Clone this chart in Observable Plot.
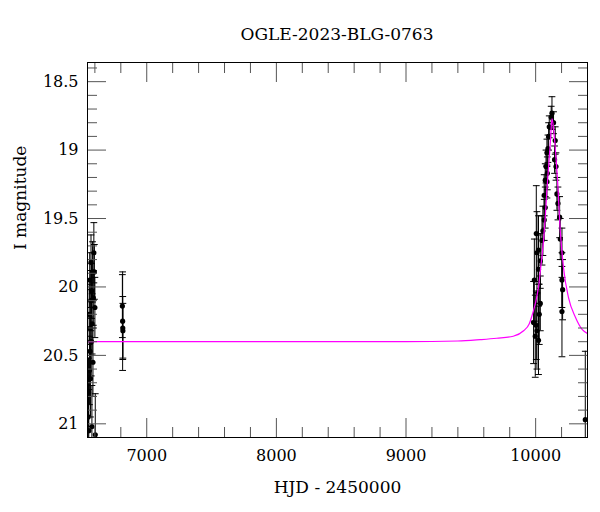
<!DOCTYPE html>
<html>
<head>
<meta charset="utf-8">
<script src="https://cdn.jsdelivr.net/npm/d3@7"></script>
<script src="https://cdn.jsdelivr.net/npm/@observablehq/plot@0.6"></script>
<style>
  html, body { margin: 0; padding: 0; background: #fff; }
  #wrap { width: 600px; height: 512px; font-family: "DejaVu Serif", serif; color: #000; }
  #title { height: 50px; box-sizing: border-box; padding-top: 24px; margin-left: 87px; width: 500px;
           text-align: center; font-size: 17px; line-height: 20px; }
</style>
</head>
<body>
<div id="wrap">
  <div id="title">OGLE-2023-BLG-0763</div>
  <div id="chart"></div>
</div>
<script>
// Observations: HJD - 2450000, I magnitude, error
const obsHjd = [
  6548, 6551, 6553, 6556, 6558, 6560, 6562, 6564, 6566, 6568, 6570, 6572, 6574, 6577, 6579, 6582, 6585, 6588, 6592, 6596, 6600, 6603,
  6812, 6814, 6815, 6816,
  9984, 9990, 9997, 10005, 10005, 10010, 10010, 10022, 10022, 10022, 10028, 10036, 10036, 10049, 10056, 10066, 10066, 10074, 10074,
  10080, 10087, 10087, 10090, 10095, 10100, 10105, 10120, 10126, 10138, 10146, 10151, 10157, 10164, 10172, 10185, 10190, 10203,
  10203, 10208, 10203, 10383
];
const obsMag = [
  20.95, 20.77, 21.05, 20.20, 20.61, 19.95, 20.47, 20.30, 20.67, 20.10, 19.82, 20.40, 20.03, 21.02, 20.27, 19.89, 20.55, 20.08, 19.75, 19.89, 20.15, 21.08,
  20.14, 20.25, 20.30, 20.32,
  20.26, 19.95, 20.36, 19.61, 20.28, 19.75, 20.32, 19.73, 19.87, 20.39, 20.20, 20.12, 19.81, 19.66, 19.59, 19.51, 19.33, 19.42, 19.22,
  19.12, 19.02, 19.23, 19.17, 18.99, 18.90, 18.83, 18.76, 18.73, 18.80, 19.07, 18.93, 19.12, 19.32, 19.39, 19.49, 19.65, 19.75,
  19.95, 20.02, 20.18, 20.97
];
const obsErr = [
  0.28, 0.25, 0.30, 0.22, 0.25, 0.20, 0.25, 0.20, 0.28, 0.22, 0.20, 0.25, 0.20, 0.30, 0.22, 0.22, 0.25, 0.20, 0.22, 0.20, 0.22, 0.30,
  0.23, 0.36, 0.23, 0.20,
  0.30, 0.30, 0.30, 0.35, 0.25, 0.30, 0.28, 0.25, 0.25, 0.25, 0.22, 0.20, 0.20, 0.18, 0.18, 0.15, 0.15, 0.15, 0.12,
  0.12, 0.10, 0.12, 0.12, 0.10, 0.10, 0.08, 0.08, 0.12, 0.08, 0.10, 0.10, 0.10, 0.12, 0.12, 0.15, 0.15, 0.18,
  0.20, 0.22, 0.33, 0.50
];

// Model light curve
const modelHjd = [6543, 8000, 9000, 9400, 9572, 9700, 9827, 9907, 9950, 9984, 10005, 10022, 10040, 10061, 10075, 10087, 10100, 10113, 10126,
  10140, 10151, 10169, 10190, 10215, 10254, 10306, 10358, 10400];
const modelMag = [20.40, 20.40, 20.40, 20.395, 20.385, 20.375, 20.36, 20.32, 20.27, 20.17, 20.09, 20.00, 19.85, 19.66, 19.48, 19.29, 19.12, 18.95, 18.77,
  18.86, 18.98, 19.22, 19.59, 19.86, 20.08, 20.22, 20.31, 20.34];

// Axis ticks
const xMajor = [7000, 8000, 9000, 10000];
const xMinor = [6600, 6800, 7200, 7400, 7600, 7800, 8200, 8400, 8600, 8800, 9200, 9400, 9600, 9800, 10200, 10400];
const yMajor = [18.5, 19, 19.5, 20, 20.5, 21];
const yMinor = [18.4, 18.6, 18.7, 18.8, 18.9, 19.1, 19.2, 19.3, 19.4, 19.6, 19.7, 19.8, 19.9, 20.1, 20.2, 20.3, 20.4, 20.6, 20.7, 20.8, 20.9, 21.1];

const obs = obsHjd.map((h, i) => ({hjd: h, mag: obsMag[i], lo: obsMag[i] - obsErr[i], hi: obsMag[i] + obsErr[i]}));
const model = modelHjd.map((h, i) => ({hjd: h, mag: modelMag[i]}));

const cap = {draw(context, l) { context.moveTo(-l / 2, 0); context.lineTo(l / 2, 0); }};
const tickCol = "#555";

const chart = Plot.plot({
  width: 600,
  height: 462,
  marginTop: 12,
  marginBottom: 75,
  marginLeft: 87,
  marginRight: 13,
  style: {fontFamily: "'DejaVu Serif', serif", fontSize: "16px", color: "#000", background: "#fff"},
  x: {domain: [6543, 10400]},
  y: {domain: [18.36, 21.1], reverse: true},
  marks: [
    Plot.ruleX(obs, {x: "hjd", y1: "lo", y2: "hi", stroke: "#000", strokeWidth: 1, clip: true}),
    Plot.vector(obs, {x: "hjd", y: "lo", length: 6, anchor: "start", shape: cap, stroke: "#000", strokeWidth: 1, clip: true}),
    Plot.vector(obs, {x: "hjd", y: "hi", length: 6, anchor: "start", shape: cap, stroke: "#000", strokeWidth: 1, clip: true}),
    Plot.dot(obs, {x: "hjd", y: "mag", r: 2.6, fill: "#000", clip: true}),
    Plot.line(model, {x: "hjd", y: "mag", stroke: "#ff00ff", strokeWidth: 1.2, curve: "monotone-x", clip: true}),
    // inward ticks on all four sides
    Plot.axisX(xMajor, {anchor: "bottom", tickSize: -19, fill: "none", stroke: tickCol, label: null}),
    Plot.axisX(xMinor, {anchor: "bottom", tickSize: -10, fill: "none", stroke: tickCol, label: null}),
    Plot.axisX(xMajor, {anchor: "top", tickSize: -19, fill: "none", stroke: tickCol, label: null}),
    Plot.axisX(xMinor, {anchor: "top", tickSize: -10, fill: "none", stroke: tickCol, label: null}),
    Plot.axisY(yMajor, {anchor: "left", tickSize: -19, fill: "none", stroke: tickCol, label: null}),
    Plot.axisY(yMinor, {anchor: "left", tickSize: -10, fill: "none", stroke: tickCol, label: null}),
    Plot.axisY(yMajor, {anchor: "right", tickSize: -19, fill: "none", stroke: tickCol, label: null}),
    Plot.axisY(yMinor, {anchor: "right", tickSize: -10, fill: "none", stroke: tickCol, label: null}),
    // tick labels
    Plot.axisX(xMajor, {anchor: "bottom", tickSize: 0, tickPadding: 12, stroke: "none", fill: "#000", fontSize: 16, tickFormat: d => String(d), label: null}),
    Plot.axisY(yMajor, {anchor: "left", tickSize: 0, tickPadding: 9, stroke: "none", fill: "#000", fontSize: 16, tickFormat: d => String(d), label: null}),
    Plot.frame({stroke: "#000", strokeWidth: 1}),
    Plot.text(["HJD - 2450000"], {frameAnchor: "bottom", dy: 55, text: d => d, fontSize: 17, fill: "#000"}),
    Plot.text(["I magnitude"], {frameAnchor: "left", dx: -67, rotate: -90, text: d => d, fontSize: 17, fill: "#000"})
  ]
});
document.getElementById("chart").appendChild(chart);
</script>
</body>
</html>
